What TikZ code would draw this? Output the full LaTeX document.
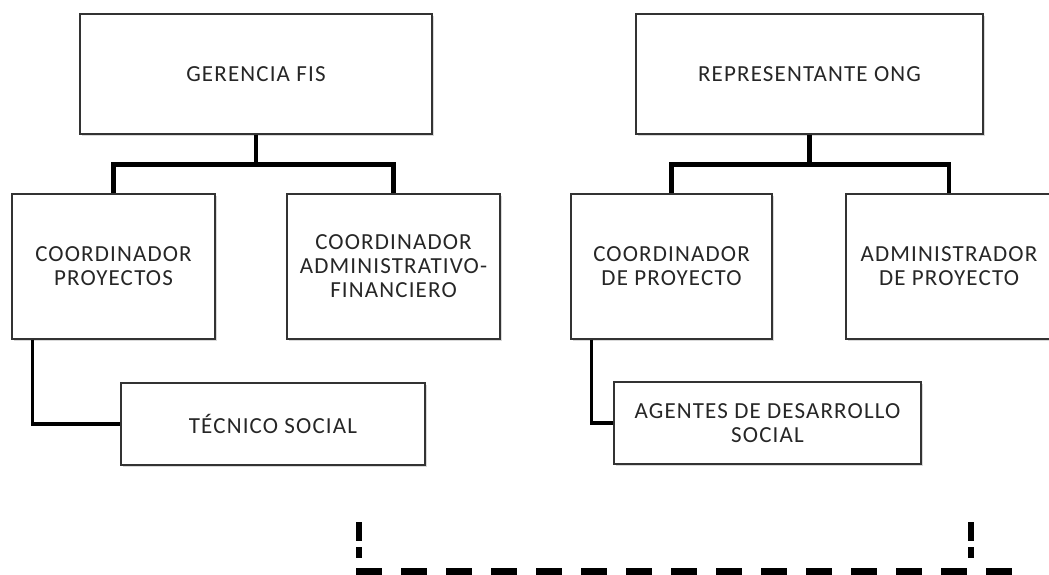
\documentclass[tikz,border=0pt]{standalone}
\usepackage{fontspec}
\setmainfont{Carlito}[LetterSpace=5]
\usetikzlibrary{shadows}

\begin{document}
\begin{tikzpicture}[x=1pt,y=-1pt,
  box/.style={draw=black!80,line width=1.4pt,fill=white,align=center,inner sep=0pt,
    drop shadow={shadow xshift=1.5pt,shadow yshift=-2pt,opacity=0.25,fill=black!60},
    font=\fontsize{23}{24}\selectfont,text=black!85},
  link/.style={line width=4.5pt},
  sublink/.style={line width=3.5pt},
  cutline/.style={line width=6pt,dash pattern=on 19pt off 6pt}]
  \useasboundingbox (0,0) rectangle (1049,574);
  % FIS side
  \node[box,minimum width=352,minimum height=120] (gerencia) at (256,74) {GERENCIA FIS};
  \node[box,minimum width=203,minimum height=145] (coordproy) at (113.5,266.5) {COORDINADOR\\PROYECTOS};
  \node[box,minimum width=213,minimum height=145] (coordadm) at (393.5,266.5) {COORDINADOR\\ADMINISTRATIVO-\\FINANCIERO};
  \node[box,minimum width=304,minimum height=82] (tecnico) at (273,424) {TÉCNICO SOCIAL};
  % ONG side
  \node[box,minimum width=347,minimum height=120] (ong) at (809.5,74) {REPRESENTANTE ONG};
  \node[box,minimum width=201,minimum height=145] (coordong) at (671.5,266.5) {COORDINADOR\\DE PROYECTO};
  \node[box,minimum width=206,minimum height=145] (adminong) at (949,266.5) {ADMINISTRADOR\\DE PROYECTO};
  \node[box,minimum width=307,minimum height=82] (agentes) at (767.5,423) {AGENTES DE DESARROLLO\\SOCIAL};
  \draw[link] (gerencia.south) -- ++(0,30) -| (coordproy.north);
  \draw[link] (gerencia.south) ++(0,30) -| (coordadm.north);
  \draw[link] (ong.south) -- ++(0,30) -| (coordong.north);
  \draw[link] (ong.south) ++(0,30) -| (adminong.north);
  \draw[sublink] (coordproy.south west) ++(21,0) |- (tecnico.west);
  \draw[sublink] (coordong.south west) ++(21,0) |- (agentes.west);
  % dashed frame
  \coordinate (cutl) at (359,522);
  \coordinate (cutr) at (970.5,522);
  \coordinate (cutbl) at (356,572);
  \coordinate (cutbr) at (1012,572);
  \draw[cutline] (cutl) -- ++(0,36);
  \draw[cutline] (cutr) -- ++(0,36);
  \draw[line width=8pt,dash pattern=on 26pt off 19pt] (cutbl) -- (cutbr);
\end{tikzpicture}
\end{document}
